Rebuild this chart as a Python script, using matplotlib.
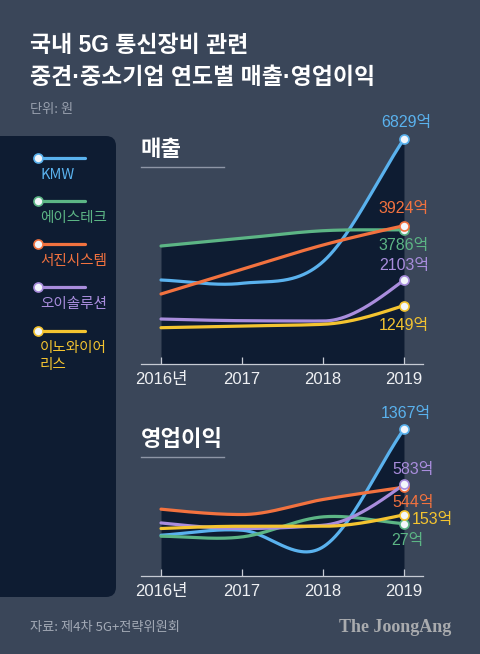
import numpy as np
import matplotlib
matplotlib.use("Agg")
import matplotlib.pyplot as plt
from matplotlib.patches import FancyBboxPatch

plt.rcParams['font.family'] = ['Noto Sans CJK KR', 'DejaVu Sans']

# ---- data ----
years = ['2016년', '2017', '2018', '2019']
companies = ['KMW', '에이스테크', '서진시스템', '오이솔루션', '이노와이어\n리스']
colors = ['#5ab2ee', '#5cb585', '#f2723f', '#a98ddd', '#f4c430']

# 매출 (억 원)
sales_kmw = [2104, 1993, 2717, 6829]
sales_ace = [3243, 3501, 3755, 3786]
sales_seojin = [1635, 2462, 3276, 3924]
sales_oe = [797, 741, 730, 2103]
sales_inno = [506, 563, 620, 1249]

# 영업이익 (억 원)
op_kmw = [-136, -65, -302, 1367]
op_ace = [-150, -160, 124, 27]
op_seojin = [233, 157, 370, 544]
op_oe = [38, -41, 5, 583]
op_inno = [-41, -9, -9, 153]

sales = [sales_kmw, sales_ace, sales_seojin, sales_oe, sales_inno]
profit = [op_kmw, op_ace, op_seojin, op_oe, op_inno]
smooth = ['cr', 'cr', 'mono', 'mono', 'mono']

BG = '#3a4659'
PANEL = '#0e1c32'
W, H = 480, 654
LATIN = ['Liberation Sans', 'Noto Sans CJK KR']


def curve(xx, ys, kind):
    ys = np.asarray(ys, float)
    x = np.arange(len(ys))
    d = np.diff(ys)
    m = np.zeros(len(ys))
    if kind == 'cr':
        m[1:-1] = (ys[2:] - ys[:-2]) / 2
        m[0], m[-1] = d[0], d[-1]
    else:
        for i in range(1, len(ys) - 1):
            s0, s1 = d[i - 1], d[i]
            p = (s0 + s1) / 2
            m[i] = (np.sign(s0) + np.sign(s1)) * min(abs(s0), abs(s1), 0.5 * abs(p))
        m[0] = (3 * d[0] - m[1]) / 2
        m[-1] = (3 * d[-1] - m[-2]) / 2
    i = np.clip(np.floor(xx).astype(int), 0, len(ys) - 2)
    t = xx - x[i]
    h00 = 2 * t**3 - 3 * t**2 + 1
    h10 = t**3 - 2 * t**2 + t
    h01 = -2 * t**3 + 3 * t**2
    h11 = t**3 - t**2
    return h00 * ys[i] + h10 * m[i] + h01 * ys[i + 1] + h11 * m[i + 1]


fig = plt.figure(figsize=(W / 100, H / 100), dpi=100, facecolor=BG)
bg = fig.add_axes([0, 0, 1, 1])
bg.set_xlim(0, W)
bg.set_ylim(H, 0)
bg.axis('off')
bg.set_facecolor(BG)

# title
bg.text(30, 46, '국내 5G 통신장비 관련', color='white', fontsize=16.5,
        fontweight='bold', va='center', ha='left', family=LATIN)
bg.text(30, 77, '중견·중소기업 연도별 매출·영업이익', color='white', fontsize=16.5,
        fontweight='bold', va='center', ha='left', family=LATIN)
bg.text(30, 110, '단위: 원', color='#9aa2b0', fontsize=9.5, va='center')

# legend panel
bg.add_patch(FancyBboxPatch((-20, 136), 136, 461,
                            boxstyle='round,pad=0,rounding_size=10',
                            fc=PANEL, ec='none'))
leg_line_y = [158, 201, 244, 287, 331]
for name, c, ly in zip(companies, colors, leg_line_y):
    bg.plot([38, 85], [ly, ly], color=c, lw=2.3, solid_capstyle='round')
    bg.plot(38, ly, 'o', ms=6.5, mfc='#f2f6fb', mec=c, mew=1.2)
    bg.text(40, ly + 10, name, color=c, fontsize=10.5, va='top', ha='left',
            linespacing=1.25)

# footer
bg.text(30, 627, '자료: 제4차 5G+전략위원회', color='#a3aab6', fontsize=9.5, va='center')
bg.text(451, 627, 'The JoongAng', color='#a9abae', fontsize=13, va='center',
        ha='right', family='Liberation Serif', fontweight='bold')


def panel(top, bottom, ylim, series, title, offsets):
    ax = fig.add_axes([141 / W, (H - bottom) / H, 282 / W, (bottom - top) / H])
    ax.set_facecolor('none')
    ax.set_xlim(-0.247, 3.235)
    ax.set_ylim(*ylim)
    xx = np.linspace(0, 3, 601)
    curves = [curve(xx, s, k) for s, k in zip(series, smooth)]
    env = np.max(curves, axis=0)
    ax.fill_between(xx, ylim[0], env, color=PANEL, lw=0, zorder=1)
    for s, c, yy in zip(series, colors, curves):
        ax.plot(xx, yy, color=c, lw=2.3, zorder=3, solid_capstyle='round')
    for s, c, off in zip(series, colors, offsets):
        ax.plot(3, s[-1], 'o', ms=6.5, mfc='#f2f6fb', mec=c, mew=1.2, zorder=5)
        ax.annotate(f'{s[-1]}억', (3, s[-1]), xytext=off, textcoords='offset pixels',
                    ha='center', va='center', color=c, fontsize=11.5,
                    family=LATIN, zorder=6)
    for sp in ['top', 'right', 'left']:
        ax.spines[sp].set_visible(False)
    ax.spines['bottom'].set_color('#c6cbd4')
    ax.spines['bottom'].set_linewidth(0.9)
    ax.set_yticks([])
    ax.set_xticks(range(4))
    ax.set_xticklabels(years, family=LATIN)
    ax.tick_params(axis='x', direction='in', length=5, width=0.9, color='#c6cbd4',
                   labelcolor='#eef0f3', labelsize=12, pad=6)
    # section heading
    bg.text(141, top + 19, title, color='white', fontsize=16, fontweight='bold',
            va='center', ha='left')
    bg.plot([141, 224], [top + 37, top + 37], color='#8e96a6', lw=1.0)
    return ax


panel(130, 364, (-710, 7129), sales, '매출',
      [(2, 16), (0, -16), (0, 17), (0, 15), (0, -20)])
panel(420, 576, (-713, 1495), profit, '영업이익',
      [(2, 16), (3, -17), (9, -15), (9, 15), (28, -5)])

fig.savefig('out.png', dpi=100, facecolor=BG)
